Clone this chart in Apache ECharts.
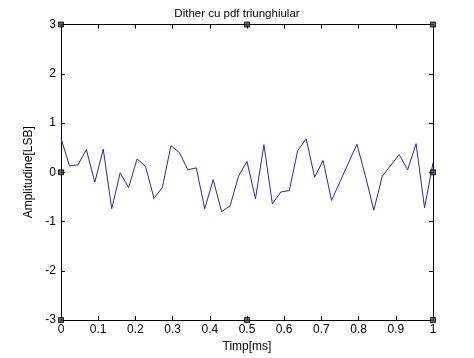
<!DOCTYPE html>
<html>
<head>
<meta charset="utf-8">
<script src="https://cdn.jsdelivr.net/npm/echarts@6/dist/echarts.min.js"></script>
<style>
html,body{margin:0;padding:0;background:#fff;}
#chart{width:474px;height:358px;}
</style>
</head>
<body>
<div id="chart"></div>
<script>
// Data (45 samples over 0..1 ms)
var sampleCount = 45;
var amplitude = [
  0.69, 0.13, 0.15, 0.46, -0.20, 0.47, -0.74, -0.01, -0.31, 0.27,
  0.12, -0.53, -0.30, 0.54, 0.40, 0.05, 0.09, -0.74, -0.15, -0.80,
  -0.68, -0.08, 0.22, -0.54, 0.56, -0.64, -0.40, -0.37, 0.44, 0.68,
  -0.10, 0.24, -0.57, -0.19, 0.19, 0.57, -0.07, -0.77, -0.08, 0.14,
  0.36, 0.05, 0.58, -0.72, 0.19
];
var timeMs = [];
for (var i = 0; i < sampleCount; i++) { timeMs.push(i / (sampleCount - 1)); }
var xTickLabels = ['0','0.1','0.2','0.3','0.4','0.5','0.6','0.7','0.8','0.9','1'];
var yTickLabels = ['-3','-2','-1','0','1','2','3'];
// MATLAB selection handles at the axes box
var handleX = [0, 0.5, 1, 0, 1, 0, 0.5, 1];
var handleY = [3, 3, 3, 0, 0, -3, -3, -3];

var lineData = timeMs.map(function (t, k) { return [t, amplitude[k]]; });
var handleData = handleX.map(function (x, k) { return [x, handleY[k]]; });

var font = 'Liberation Sans, Arial, sans-serif';
var chart = echarts.init(document.getElementById('chart'));
function xAx(pos, show) {
  return {
    type: 'value', position: pos, min: 0, max: 1, interval: 0.1,
    axisLine: { show: true, onZero: false, lineStyle: { color: '#000', width: 1 } },
    axisTick: { show: true, inside: true, length: 4, lineStyle: { color: '#000' } },
    axisLabel: {
      show: show, color: '#000', fontSize: 12, fontFamily: font, margin: 4,
      formatter: function (v) { var idx = Math.round(v * 10); return xTickLabels[idx]; }
    },
    splitLine: { show: false }
  };
}
function yAx(pos, show) {
  return {
    type: 'value', position: pos, min: -3, max: 3, interval: 1,
    axisLine: { show: true, onZero: false, lineStyle: { color: '#000', width: 1 } },
    axisTick: { show: true, inside: true, length: 4, lineStyle: { color: '#000' } },
    axisLabel: {
      show: show, color: '#000', fontSize: 12, fontFamily: font, margin: 5,
      formatter: function (v) { return yTickLabels[Math.round(v) + 3]; }
    },
    splitLine: { show: false }
  };
}
var xMain = xAx('bottom', true);
xMain.name = 'Timp[ms]';
xMain.nameLocation = 'middle';
xMain.nameGap = 19;
xMain.nameTextStyle = { color: '#000', fontSize: 12, fontFamily: font, verticalAlign: 'top' };
var yMain = yAx('left', true);
yMain.name = 'Amplitudine[LSB]';
yMain.nameLocation = 'middle';
yMain.nameGap = 18;
yMain.nameTextStyle = { color: '#000', fontSize: 12, fontFamily: font };

chart.setOption({
  backgroundColor: '#fff',
  animation: false,
  title: {
    text: 'Dither cu pdf triunghiular', left: 'center', top: 3,
    textStyle: { color: '#000', fontSize: 11.5, fontWeight: 'normal', fontFamily: font }
  },
  grid: { left: 61, right: 41, top: 24.5, bottom: 37, containLabel: false },
  xAxis: [xMain, xAx('top', false)],
  yAxis: [yMain, yAx('right', false)],
  series: [
    {
      type: 'line', data: lineData, xAxisIndex: 0, yAxisIndex: 0,
      showSymbol: false, symbol: 'none',
      lineStyle: { color: '#2a2aa0', width: 1 }
    },
    {
      type: 'scatter', data: handleData, xAxisIndex: 0, yAxisIndex: 0,
      symbol: 'rect', symbolSize: 5,
      itemStyle: { color: '#444', borderColor: '#000', borderWidth: 1 },
      z: 5
    }
  ]
});
</script>
</body>
</html>
